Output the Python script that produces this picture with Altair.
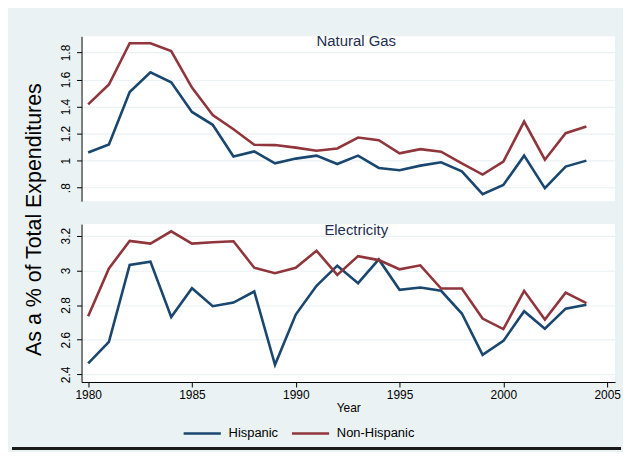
import altair as alt
import pandas as pd

years = list(range(1980, 2005))
groups = ["Hispanic", "Non-Hispanic"]
colors = ["#1a476f", "#90353b"]
panel_titles = ["Natural Gas", "Electricity"]

gas_hisp = [1.06, 1.12, 1.507, 1.654, 1.58, 1.36, 1.265, 1.03, 1.068, 0.98, 1.015, 1.037, 0.975,
            1.037, 0.946, 0.929, 0.963, 0.988, 0.921, 0.752, 0.82, 1.037, 0.796, 0.956, 1.0]
gas_non = [1.416, 1.563, 1.868, 1.868, 1.81, 1.54, 1.338, 1.232, 1.118, 1.115, 1.096, 1.073, 1.09,
           1.171, 1.151, 1.054, 1.085, 1.066, 0.98, 0.897, 0.993, 1.289, 1.007, 1.203, 1.252]
elec_hisp = [2.463, 2.587, 3.031, 3.05, 2.731, 2.897, 2.793, 2.814, 2.878, 2.455, 2.745, 2.911, 3.027,
             2.926, 3.063, 2.888, 2.901, 2.882, 2.751, 2.513, 2.593, 2.764, 2.663, 2.779, 2.802]
elec_non = [2.735, 3.011, 3.17, 3.154, 3.225, 3.154, 3.162, 3.168, 3.015, 2.983, 3.015, 3.113, 2.974,
            3.082, 3.059, 3.006, 3.029, 2.895, 2.895, 2.722, 2.661, 2.882, 2.716, 2.871, 2.811]

gas_ticks = [0.8, 1, 1.2, 1.4, 1.6, 1.8]
elec_ticks = [2.4, 2.6, 2.8, 3, 3.2]
year_ticks = [1980, 1985, 1990, 1995, 2000, 2005]

def frame(h, n):
    return pd.concat([
        pd.DataFrame({"year": years, "value": h, "group": "Hispanic"}),
        pd.DataFrame({"year": years, "value": n, "group": "Non-Hispanic"}),
    ])

gas_df = frame(gas_hisp, gas_non)
elec_df = frame(elec_hisp, elec_non)

FONT = "Liberation Sans"
BG = "#eaf2f3"
W = 537

xscale = alt.Scale(domain=[1979.68, 2005.38], nice=False, zero=False)
color = alt.Color("group:N", scale=alt.Scale(domain=groups, range=colors),
                  legend=alt.Legend(orient="none", legendX=101, legendY=379,
                                    direction="horizontal", title=None,
                                    symbolType="stroke", symbolSize=1400,
                                    symbolStrokeWidth=2.6, labelFontSize=13,
                                    labelFont=FONT, labelColor="black",
                                    columnPadding=8, labelOffset=6))

def yaxis(vals, title=None, **kw):
    return alt.Axis(values=vals,
                    labelExpr="datum.value == 0.8 ? '.8' : format(datum.value, '~g')",
                    labelAngle=270, labelAlign="center", labelBaseline="bottom",
                    labelPadding=4, labelFontSize=12, labelFont=FONT, labelColor="black",
                    tickSize=5, tickColor="black", domainColor="black",
                    grid=True, gridColor=BG, gridWidth=1.2,
                    title=title, **kw)

def panel_title(txt, y):
    return alt.Chart(pd.DataFrame({"t": [txt]})).mark_text(
        font=FONT, fontSize=15, color="#1e2e50", align="center", baseline="alphabetic"
    ).encode(text="t:N", x=alt.value(W / 2 + 8), y=alt.value(y))

top_lines = alt.Chart(gas_df).mark_line(strokeWidth=2.6).encode(
    x=alt.X("year:Q", scale=xscale, axis=None),
    y=alt.Y("value:Q", scale=alt.Scale(domain=[0.70, 1.92], nice=False, zero=False),
            axis=yaxis(gas_ticks, title="As a % of Total Expenditures",
                       titleAngle=270, titleX=-47, titleY=184,
                       titleAlign="center", titleBaseline="middle",
                       titleFontSize=21.5, titleFont=FONT, titleFontWeight="normal",
                       titleColor="black")),
    color=color,
)
top = alt.layer(top_lines, panel_title(panel_titles[0], 10)).properties(width=W, height=166)

bot_lines = alt.Chart(elec_df).mark_line(strokeWidth=2.6).encode(
    x=alt.X("year:Q", scale=xscale,
            axis=alt.Axis(values=year_ticks, format="d", title="Year",
                          labelFontSize=12, labelFont=FONT, labelColor="black",
                          titleFontSize=12, titleFont=FONT, titleFontWeight="normal",
                          titleColor="black", titlePadding=2,
                          tickSize=5, tickColor="black", domainColor="black",
                          labelPadding=3, grid=False)),
    y=alt.Y("value:Q", scale=alt.Scale(domain=[2.356, 3.267], nice=False, zero=False),
            axis=yaxis(elec_ticks)),
    color=color,
)
rule = alt.Chart(pd.DataFrame({"k": [0]})).mark_rule(color="#1a1a1a", strokeWidth=3).encode(
    x=alt.value(-70), x2=alt.value(543), y=alt.value(226))

bottom = alt.layer(bot_lines, panel_title(panel_titles[1], 11), rule).properties(width=W, height=159)

chart = alt.vconcat(top, bottom, spacing=23, bounds="flush").properties(
    padding={"left": 2, "top": 25, "right": 0, "bottom": 0},
).configure(background=BG).configure_view(stroke=None, fill="white")

chart.save("out.html", embed_options={"renderer": "svg", "actions": False})
